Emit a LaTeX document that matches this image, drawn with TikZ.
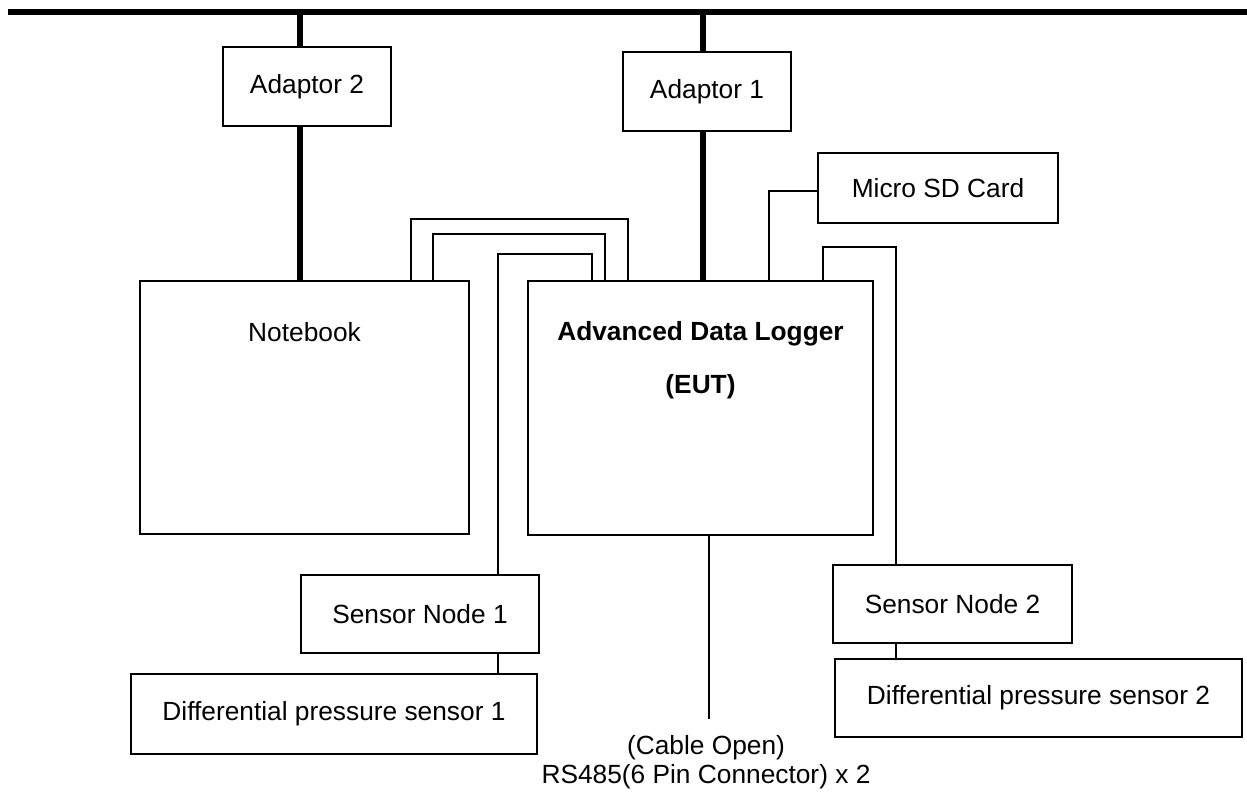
\documentclass[tikz,border=0pt]{standalone}
\usepackage{fontspec}
\setmainfont{Liberation Sans}
\usepackage{tikz}
\usetikzlibrary{positioning}
\tikzset{
  unitbox/.style={draw, line width=2pt, fill=white, inner sep=0pt, align=center, font=\fontsize{26.3}{29}\selectfont},
  unitlabel/.style={inner sep=0pt, align=center, font=\fontsize{26.3}{29}\selectfont},
  cable/.style={line width=2pt},
  mains/.style={line width=5.5pt}
}

\begin{document}
\begin{tikzpicture}[x=1pt, y=1pt]
  \useasboundingbox (0,0) rectangle (1247,793);

  % mains bus
  \coordinate (busW) at (8,781);
  \coordinate (busE) at (1247,781);
  \coordinate (bus2) at (300,781);
  \coordinate (bus1) at (703,781);

  \node[unitbox, minimum width=168pt, minimum height=79pt] (ad2) at (307,706.5) {Adaptor 2};
  \node[unitbox, minimum width=168pt, minimum height=79pt] (ad1) at (707,701.5) {Adaptor 1};
  \node[unitbox, minimum width=240pt, minimum height=70pt] (sd) at (938,605) {Micro SD Card};
  \node[unitbox, minimum width=329pt, minimum height=253pt] (nb) at (304.5,385.5) {};
  \node[unitbox, minimum width=345pt, minimum height=254pt] (lg) at (700.5,385) {};
  \node[unitbox, minimum width=238pt, minimum height=78pt] (sn1) at (420,179) {Sensor Node 1};
  \node[unitbox, minimum width=406pt, minimum height=80pt] (dp1) at (334,79) {Differential pressure sensor 1};
  \node[unitbox, minimum width=239pt, minimum height=78pt] (sn2) at (952.5,189) {Sensor Node 2};
  \node[unitbox, minimum width=407pt, minimum height=78pt] (dp2) at (1038.5,95) {Differential pressure sensor 2};

  \node[unitlabel] (nbtext) at ([yshift=-52pt]nb.north) {Notebook};
  \node[unitlabel, font=\fontsize{26.3}{29}\selectfont\bfseries] (lgtext) at ([yshift=-54pt]lg.north) {Advanced Data Logger};
  \node[unitlabel, font=\fontsize{26.3}{29}\selectfont\bfseries] (euttext) at ([yshift=-107pt]lg.north) {(EUT)};

  % power
  \draw[mains] (busW) -- (busE);
  \draw[mains] (bus2) -- (bus2 |- ad2.north);
  \draw[mains] (bus2 |- ad2.south) -- (bus2 |- nb.north);
  \draw[mains] (bus1) -- (bus1 |- ad1.north);
  \draw[mains] (bus1 |- ad1.south) -- (bus1 |- lg.north);

  % signal cables
  \draw[cable] ([xshift=-59pt]nb.north east) -- ++(0,61) -| ([xshift=101pt]lg.north west);
  \draw[cable] ([xshift=-37pt]nb.north east) -- ++(0,46) -| ([xshift=78pt]lg.north west);
  \draw[cable] ([xshift=198pt]sn1.north west) -- ++(0,320) -| ([xshift=65pt]lg.north west);
  \draw[cable] ([yshift=-3pt]sd.west) -| ([xshift=-105pt]lg.north east);
  \draw[cable] ([xshift=-51pt]lg.north east) -- ++(0,33) -| ([xshift=64pt]sn2.north west);

  \coordinate (tap1) at ([xshift=198pt]sn1.south west);
  \coordinate (tap2) at ([xshift=64pt]sn2.south west);
  \draw[cable] (tap1) -- (tap1 |- dp1.north);
  \draw[cable] (tap2) -- (tap2 |- dp2.north);

  % open RS485 lead
  \coordinate (rsend) at ([xshift=8.5pt, yshift=-183pt]lg.south);
  \draw[cable] ([xshift=8.5pt]lg.south) -- (rsend);
  \node[unitlabel] (rstext) at (706,30.5) {(Cable Open)\\RS485(6 Pin Connector) x 2};
\end{tikzpicture}
\end{document}
